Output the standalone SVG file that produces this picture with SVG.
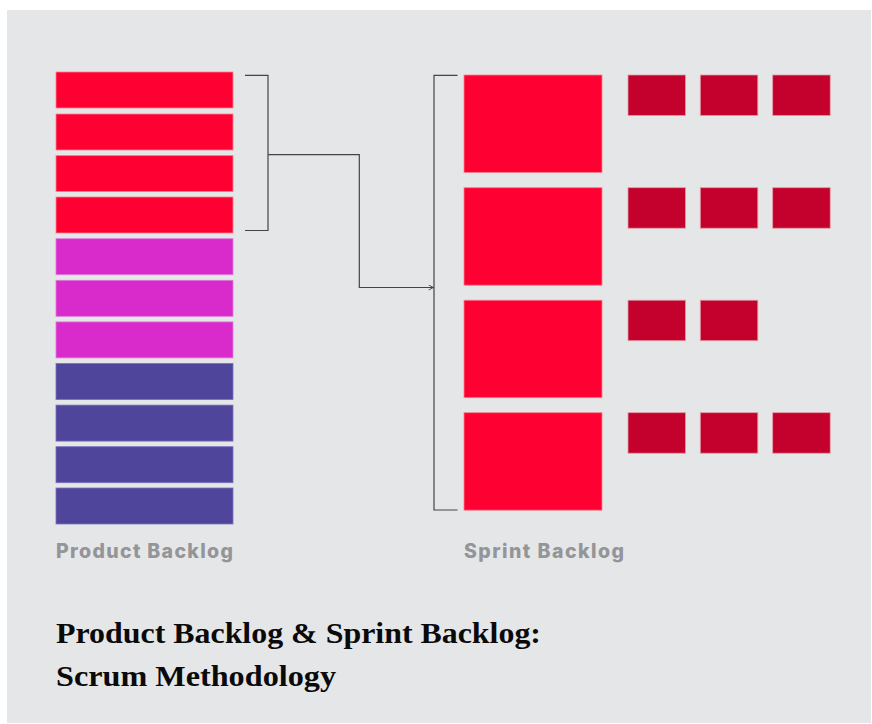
<svg xmlns="http://www.w3.org/2000/svg" width="872" height="724" viewBox="0 0 872 724">
<style>
.red{fill:#FF0033;stroke:#F4838F;stroke-width:0.8}
.mag{fill:#D92ACB;stroke:#E07ADB;stroke-width:0.8}
.pur{fill:#4F469B;stroke:#7A71C0;stroke-width:0.8}
.dk{fill:#C4002C;stroke:#E09AA6;stroke-width:0.8}
.lbl{font-family:Inter,"Open Sans","Liberation Sans",sans-serif;font-weight:800;font-size:19.5px;fill:#939598}
.title{font-family:"Liberation Serif","DejaVu Serif",serif;font-weight:700;font-size:29px;fill:#0A0A0A}
.ln{fill:none;stroke:#444;stroke-width:1.2}
</style>
<defs>
<marker id="arr" viewBox="0 0 10 10" refX="9" refY="5" markerWidth="6" markerHeight="6" markerUnits="userSpaceOnUse" orient="auto">
<path d="M1,1 L9,5 L1,9" fill="none" stroke="#444" stroke-width="1.5"/>
</marker>
</defs>
<rect x="0" y="0" width="872" height="724" fill="#FFFFFF"/>
<rect x="7" y="10" width="864" height="713" fill="#E5E6E8"/>

<g id="product-backlog">
<rect class="red" x="56" y="72" width="177" height="36"/>
<rect class="red" x="56" y="114" width="177" height="36"/>
<rect class="red" x="56" y="155.5" width="177" height="36"/>
<rect class="red" x="56" y="197" width="177" height="36"/>
<rect class="mag" x="56" y="238.7" width="177" height="36"/>
<rect class="mag" x="56" y="280.3" width="177" height="36"/>
<rect class="mag" x="56" y="321.9" width="177" height="36"/>
<rect class="pur" x="56" y="363.5" width="177" height="36"/>
<rect class="pur" x="56" y="405.1" width="177" height="36"/>
<rect class="pur" x="56" y="446.7" width="177" height="36"/>
<rect class="pur" x="56" y="488" width="177" height="36"/>
<text class="lbl" x="56" y="557.5" textLength="177" lengthAdjust="spacing">Product Backlog</text>
</g>

<g id="sprint-backlog">
<rect class="red" x="464" y="75" width="138" height="97.5"/>
<rect class="red" x="464" y="187.7" width="138" height="97.5"/>
<rect class="red" x="464" y="300.2" width="138" height="97.5"/>
<rect class="red" x="464" y="412.7" width="138" height="97.5"/>
<text class="lbl" x="464" y="557.5" textLength="160" lengthAdjust="spacing">Sprint Backlog</text>
</g>

<g id="tasks">
<rect class="dk" x="628" y="75" width="57.5" height="40.5"/>
<rect class="dk" x="700.3" y="75" width="57.5" height="40.5"/>
<rect class="dk" x="772.7" y="75" width="57.5" height="40.5"/>
<rect class="dk" x="628" y="187.7" width="57.5" height="40.5"/>
<rect class="dk" x="700.3" y="187.7" width="57.5" height="40.5"/>
<rect class="dk" x="772.7" y="187.7" width="57.5" height="40.5"/>
<rect class="dk" x="628" y="300.2" width="57.5" height="40.5"/>
<rect class="dk" x="700.3" y="300.2" width="57.5" height="40.5"/>
<rect class="dk" x="628" y="412.7" width="57.5" height="40.5"/>
<rect class="dk" x="700.3" y="412.7" width="57.5" height="40.5"/>
<rect class="dk" x="772.7" y="412.7" width="57.5" height="40.5"/>
</g>

<g id="connectors">
<path class="ln" d="M245,75.3 H268 V230.5 H245"/>
<path class="ln" d="M268,154.7 H359.3 V287.5 H433.5" marker-end="url(#arr)"/>
<path class="ln" d="M457.5,75.3 H434 V510 H457.5"/>
</g>

<g id="title">
<text class="title" x="56" y="643" textLength="485" lengthAdjust="spacingAndGlyphs">Product Backlog &amp; Sprint Backlog:</text>
<text class="title" x="56" y="686" textLength="280" lengthAdjust="spacingAndGlyphs">Scrum Methodology</text>
</g>
</svg>
